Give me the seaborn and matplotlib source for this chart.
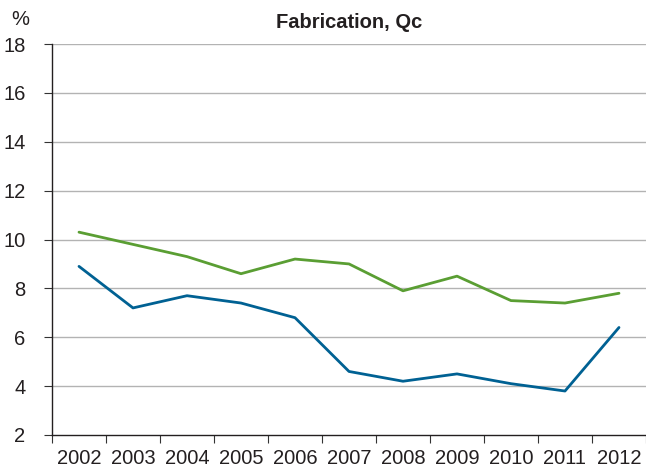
import matplotlib
matplotlib.use("Agg")
import matplotlib.pyplot as plt
import seaborn as sns
import pandas as pd

years = ["2002", "2003", "2004", "2005", "2006", "2007", "2008", "2009", "2010", "2011", "2012"]
green_vals = [10.3, 9.8, 9.3, 8.6, 9.2, 9.0, 7.9, 8.5, 7.5, 7.4, 7.8]
blue_vals = [8.9, 7.2, 7.7, 7.4, 6.8, 4.6, 4.2, 4.5, 4.1, 3.8, 6.4]
y_ticks = [2, 4, 6, 8, 10, 12, 14, 16, 18]

sns.set_theme(style="white")
plt.rcParams['font.family'] = ['Liberation Sans', 'DejaVu Sans']

df = pd.DataFrame({
    "year": years * 2,
    "value": green_vals + blue_vals,
    "series": ["green"] * len(years) + ["blue"] * len(years),
})

fig = plt.figure(figsize=(6.46, 4.75), dpi=100)
ax = fig.add_axes([52 / 646, 1 - 435 / 475, 1 - 52 / 646, (435 - 44) / 475])

sns.lineplot(data=df, x="year", y="value", hue="series",
             palette={"green": "#5a9e33", "blue": "#006193"},
             linewidth=2.0, legend=False, ax=ax, sort=False)

ax.set_ylim(2, 18)
ax.set_xlim(-0.5, len(years) - 0.5)
ax.set_yticks(y_ticks)
ax.set_yticklabels([str(t) for t in y_ticks], fontsize=14.5, color="#231f20")
for t in y_ticks[1:]:
    ax.axhline(t, color="#b3b3b3", linewidth=1.0, zorder=0)

ax.set_xticks(range(len(years)))
ax.set_xticklabels(years, fontsize=14.5, color="#231f20")
ax.set_xticks([i - 0.5 for i in range(len(years) + 1)], minor=True)
ax.tick_params(axis="x", which="major", length=0, pad=10)
ax.tick_params(axis="x", which="minor", length=6, width=0.8, color="#333333", direction="out", bottom=True)
ax.tick_params(axis="y", which="major", length=6, width=0.8, color="#333333", direction="out", left=True, pad=13)

ax.set_xlabel("")
ax.set_ylabel("")
for s in ["top", "right"]:
    ax.spines[s].set_visible(False)
for s in ["left", "bottom"]:
    ax.spines[s].set_color("#231f20")
    ax.spines[s].set_linewidth(1.0)

fig.text(349 / 646, 1 - 22 / 475, "Fabrication, Qc", ha="center", va="center",
         fontsize=14.5, fontweight="bold", color="#231f20")
fig.text(11 / 646, 1 - 19.5 / 475, "%", ha="left", va="center", fontsize=14.5, color="#231f20")

fig.savefig("out.png", dpi=100)
